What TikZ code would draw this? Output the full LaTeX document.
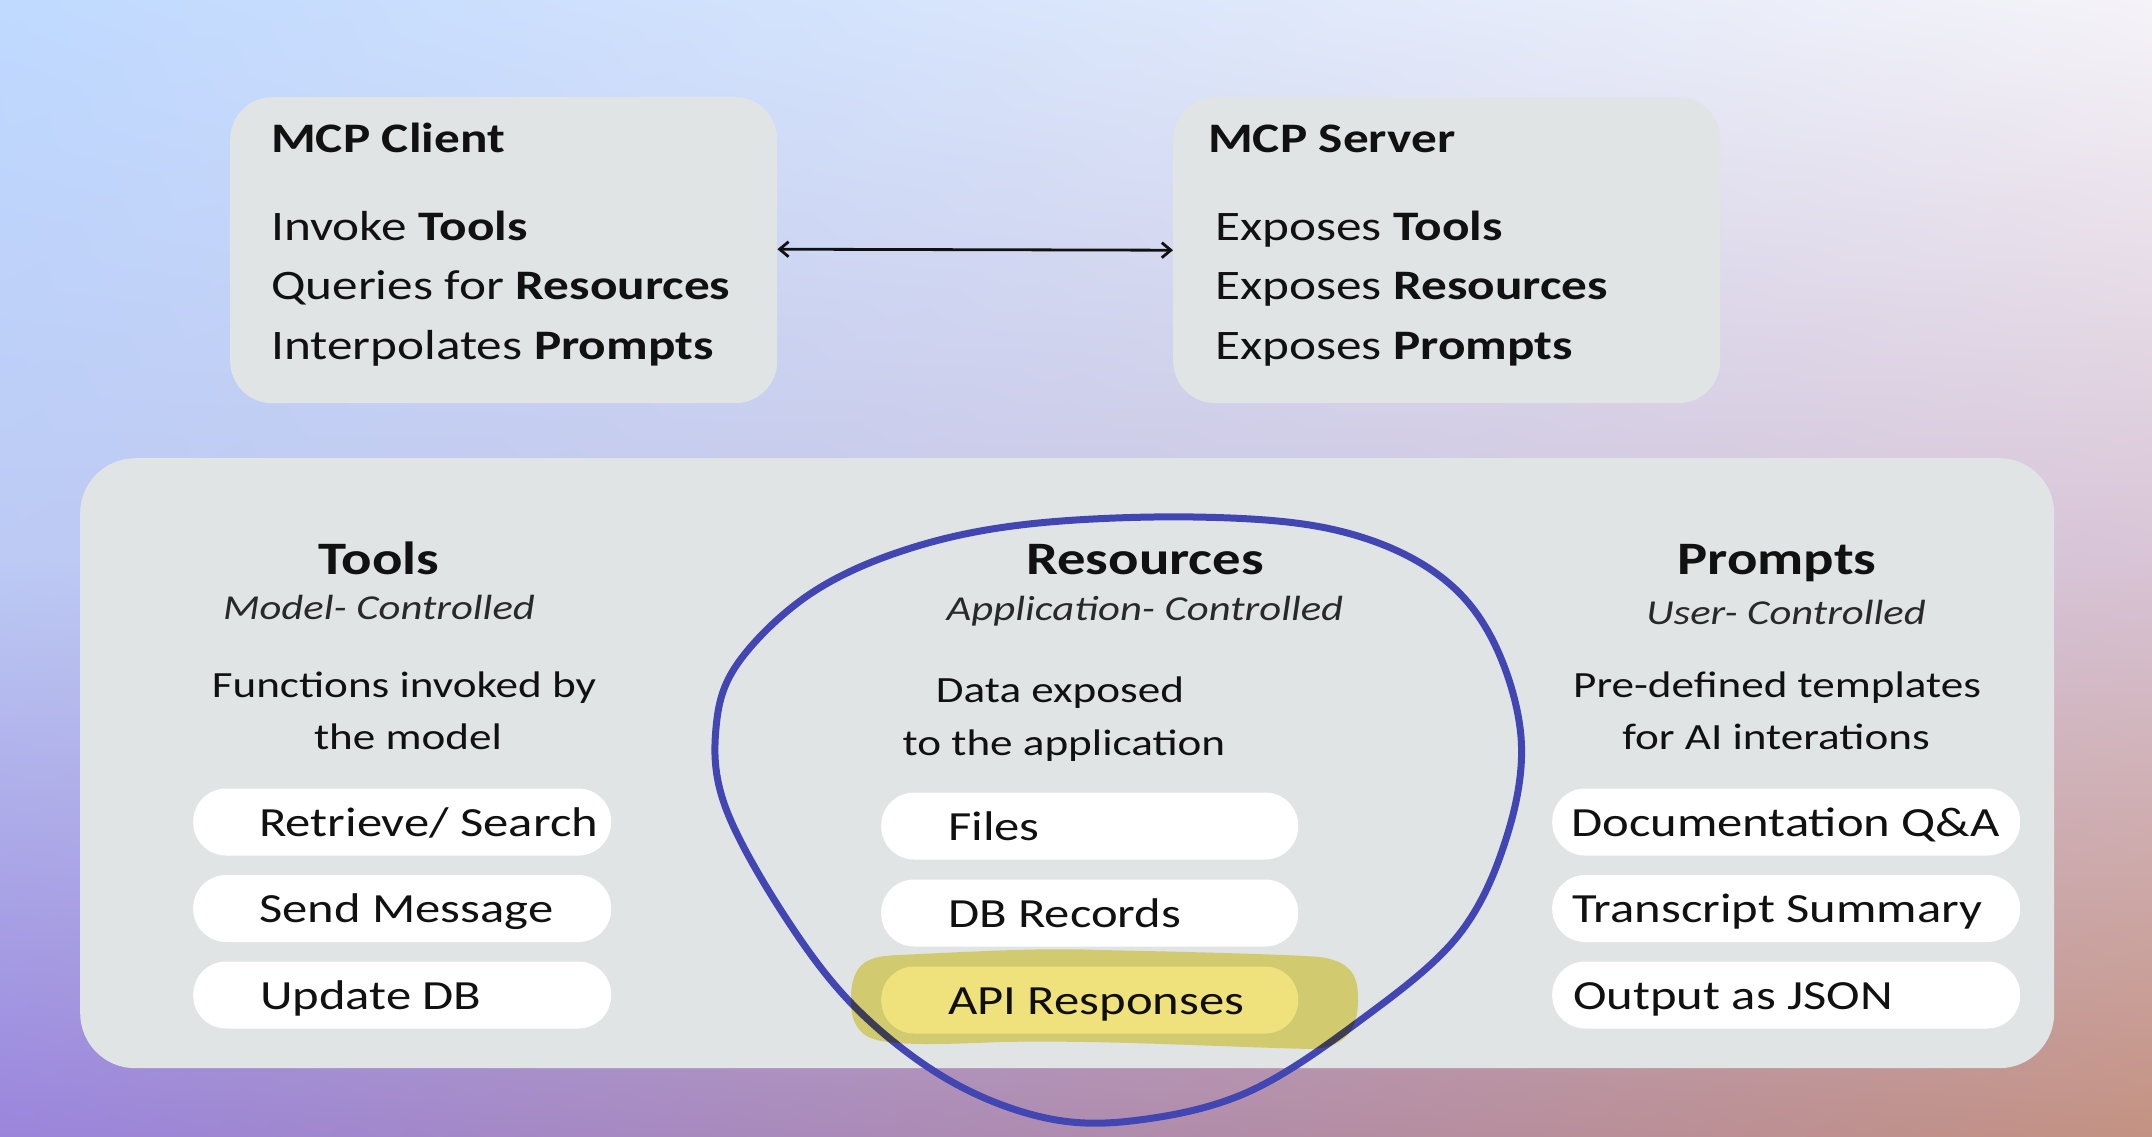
\documentclass[tikz,border=0pt]{standalone}
\usepackage{fontspec}
\setmainfont{Carlito}[FakeStretch=1.22]
\usetikzlibrary{arrows.meta,shadings}
\definecolor{bgTL}{HTML}{BFD9FF}
\definecolor{bgTR}{HTML}{F5F3F8}
\definecolor{bgML}{HTML}{BCCAF4}
\definecolor{bgMR}{HTML}{D8C4D6}
\definecolor{bgBL}{HTML}{9A85DC}
\definecolor{bgBR}{HTML}{C49282}
\definecolor{boxgray}{HTML}{E0E4E4}
\definecolor{ink}{HTML}{111111}
\definecolor{loopblue}{HTML}{4246B2}
\definecolor{hilite}{HTML}{EFE27C}
\begin{document}
\begin{tikzpicture}[x=1pt,y=-1pt,
  box/.style={fill=boxgray, draw=none, rounded corners=42pt, inner sep=0pt},
  pill/.style={fill=white, draw=none, rounded corners=33pt, inner sep=0pt, minimum height=67pt, minimum width=418pt, anchor=west},
  toptxt/.style={inner sep=0pt, anchor=base west, text=ink, font=\fontsize{42}{50}\selectfont},
  head/.style={inner sep=0pt, anchor=base, text=ink, font=\fontsize{46.5}{56}\selectfont\bfseries},
  sub/.style={inner sep=0pt, anchor=base, text=ink!90, font=\fontsize{35}{42}\selectfont\itshape},
  desc/.style={inner sep=0pt, anchor=base, text=ink, font=\fontsize{37}{44}\selectfont},
  piltxt/.style={inner sep=0pt, anchor=base west, text=ink, font=\fontsize{41.5}{48}\selectfont},
  link/.style={line width=2.8pt, draw=ink, {Straight Barb[length=9pt,width=15pt]}-{Straight Barb[length=9pt,width=15pt]}},
  handloop/.style={draw=loopblue, line width=7pt, line cap=round}
]
\useasboundingbox (0,0) rectangle (2152,1136);
% background
\shade[upper left=bgTL, upper right=bgTR, lower left=bgML, lower right=bgMR] (0,0) rectangle (2152,560);
\shade[upper left=bgML, upper right=bgMR, lower left=bgBL, lower right=bgBR] (0,559.5) rectangle (2152,1136);

% top boxes
\node[box, minimum width=547pt, minimum height=306pt, anchor=north west] (client) at (230,97) {};
\node[box, minimum width=547pt, minimum height=306pt, anchor=north west] (server) at (1173,97) {};
\node[toptxt] (ct) at (271,152) {\textbf{MCP Client}};
\node[toptxt] (c1) at (271,240) {Invoke \textbf{Tools}};
\node[toptxt] (c2) at (271,299) {Queries for \textbf{Resources}};
\node[toptxt] (c3) at (271,359) {Interpolates \textbf{Prompts}};
\node[toptxt] (st) at (1208,152) {\textbf{MCP Server}};
\node[toptxt] (s1) at (1215,240) {Exposes \textbf{Tools}};
\node[toptxt] (s2) at (1215,299) {Exposes \textbf{Resources}};
\node[toptxt] (s3) at (1215,359) {Exposes \textbf{Prompts}};
\draw[link] ([yshift=1pt]client.east) -- ([yshift=0pt]server.west);

% bottom panel
\node[box, rounded corners=55pt, minimum width=1974pt, minimum height=610pt, anchor=north west] (panel) at (80,458) {};

% Tools column
\node[head] (th) at (379,574) {Tools};
\node[sub] (ts) at (379,619) {Model- Controlled};
\node[desc] (td1) at (404,697) {Functions invoked by};
\node[desc] (td2) at (408,749) {the model};
\node[pill] (tp1) at (193,822) {};
\node[pill] (tp2) at (193,908.5) {};
\node[pill] (tp3) at (193,995) {};
\node[piltxt] (tt1) at ([xshift=66pt,yshift=-14pt]tp1.west) {Retrieve/ Search};
\node[piltxt] (tt2) at ([xshift=66pt,yshift=-14pt]tp2.west) {Send Message};
\node[piltxt] (tt3) at ([xshift=67pt,yshift=-14pt]tp3.west) {Update DB};

% Resources column
\node[head] (rh) at (1145,574) {Resources};
\node[sub] (rs) at (1145,620) {Application- Controlled};
\node[desc] (rd1) at (1060,702) {Data exposed};
\node[desc] (rd2) at (1064,755) {to the application};
\node[pill, minimum width=417pt] (rp1) at (881,826) {};
\node[pill, minimum width=417pt] (rp2) at (881,913) {};
\node[pill, minimum width=417pt] (rp3) at (881,1000) {};
\node[piltxt] (rt1) at ([xshift=67pt,yshift=-14pt]rp1.west) {Files};
\node[piltxt] (rt2) at ([xshift=67pt,yshift=-14pt]rp2.west) {DB Records};
\node[piltxt] (rt3) at ([xshift=67pt,yshift=-14pt]rp3.west) {API Responses};

% Prompts column
\node[head] (ph) at (1777,574) {Prompts};
\node[sub] (ps) at (1786,624) {User- Controlled};
\node[desc] (pd1) at (1777,697) {Pre-defined templates};
\node[desc] (pd2) at (1776,749) {for AI interations};
\node[pill, minimum width=468pt] (pp1) at (1552,822) {};
\node[pill, minimum width=468pt] (pp2) at (1552,908.5) {};
\node[pill, minimum width=468pt] (pp3) at (1552,995) {};
\node[piltxt] (pt1) at ([xshift=19pt,yshift=-14pt]pp1.west) {Documentation Q\&A};
\node[piltxt] (pt2) at ([xshift=20pt,yshift=-14pt]pp2.west) {Transcript Summary};
\node[piltxt] (pt3) at ([xshift=21pt,yshift=-14pt]pp3.west) {Output as JSON};

% hand-drawn loop
\draw[handloop]
  plot[smooth cycle, tension=0.6] coordinates {
  (1194,517) (1331,529) (1430,569) (1490,635) (1521,737) (1506,839)
  (1457,937) (1358,1022) (1248,1092) (1139,1120) (1046,1118) (947,1079)
  (854,1006) (782,912) (725,806) (716,728) (738,663) (810,594)
  (908,549) (1029,524)};

% highlighter
\begin{scope}[blend mode=multiply]
\fill[hilite] (851,1000) .. controls (851,960) and (870,956) .. (900,955)
  .. controls (1000,950) and (1050,948) .. (1100,950)
  .. controls (1200,952) and (1300,955) .. (1320,957)
  .. controls (1355,962) and (1358,980) .. (1358,1000)
  .. controls (1358,1030) and (1345,1048) .. (1310,1049)
  .. controls (1200,1046) and (1100,1040) .. (1000,1042)
  .. controls (930,1045) and (880,1046) .. (865,1035)
  .. controls (852,1025) and (851,1012) .. (851,1000) -- cycle;
\end{scope}
\end{tikzpicture}
\end{document}
